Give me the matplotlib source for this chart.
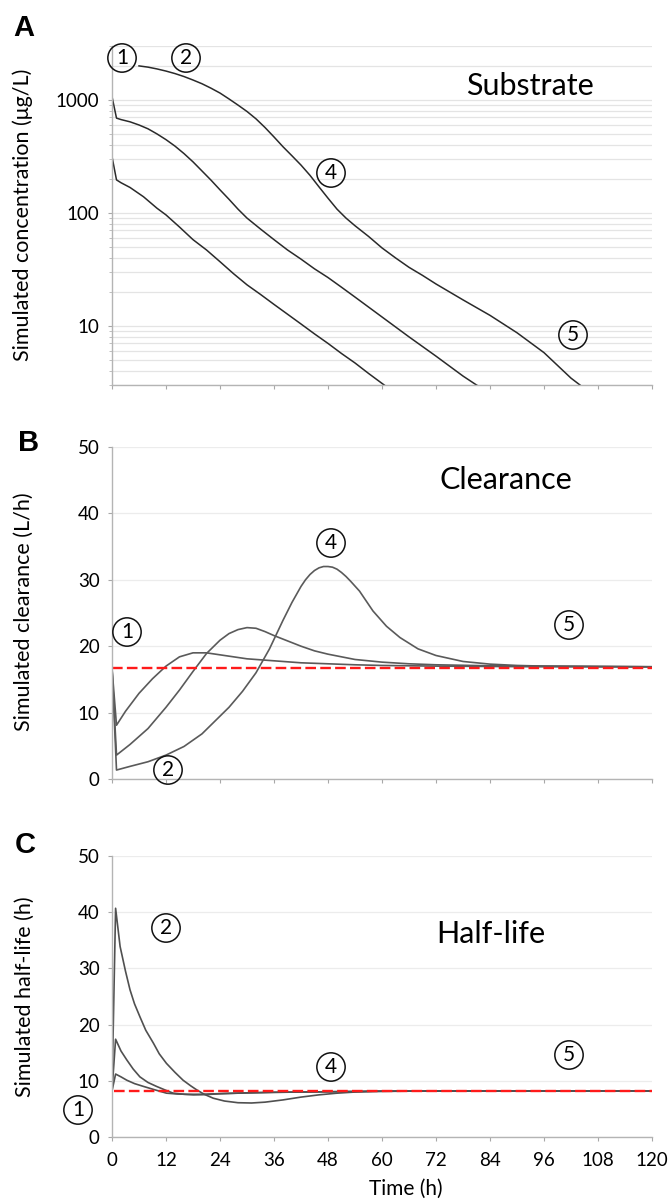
import numpy as np
import matplotlib.pyplot as plt
from matplotlib.ticker import LogLocator, FixedLocator, NullFormatter, FixedFormatter

# Simulated profiles: time (h) and values per dosing scenario

# A - substrate concentration (ug/L)
t_a_low = [0, 1, 2, 4, 7, 10, 12, 15, 18, 21, 24, 27, 30, 33, 36, 39, 42, 45, 48, 51, 54, 57, 60, 61]
c_a_low = [315, 196, 185, 168, 139, 110, 96, 75, 58, 47, 37, 29, 23.1, 19.0, 15.5, 12.7, 10.4, 8.5, 7.0, 5.7, 4.7, 3.8, 3.1, 2.9]

t_a_mid = [0, 1, 2, 4, 6, 8, 10, 12, 14, 16, 18, 20, 22, 24, 26, 28, 30, 33, 36, 39, 42, 45, 48, 51, 54, 60, 66, 72, 78, 81, 82]
c_a_mid = [1070, 690, 670, 640, 600, 555, 500, 445, 390, 335, 283, 235, 195, 160, 132, 108, 90, 72, 58, 47, 39, 32, 26.8, 22, 18, 12, 8.0, 5.4, 3.6, 3.0, 2.85]

t_a_high = [6, 8, 10, 12, 14, 16, 18, 20, 22, 24, 26, 28, 30, 32, 34, 36, 38, 40, 42, 44, 46, 48, 50, 52, 54, 57, 60, 63, 66, 69, 72, 78, 84, 90, 96, 102, 104]
c_a_high = [2000, 1950, 1880, 1800, 1710, 1610, 1500, 1390, 1270, 1150, 1020, 900, 790, 680, 570, 470, 385, 320, 265, 215, 170, 135, 108, 90, 77, 62, 49, 40, 33, 28, 23.5, 17, 12.4, 8.7, 5.8, 3.45, 3.0]

# B - clearance (L/h)
t_b_low = [0, 1, 3, 6, 9, 12, 15, 18, 21, 24, 27, 30, 36, 42, 48, 54, 60, 72, 84, 96, 108, 120]
cl_b_low = [16.7, 8.1, 10.2, 12.9, 15.1, 17.0, 18.4, 19.0, 19.0, 18.7, 18.4, 18.1, 17.8, 17.5, 17.35, 17.2, 17.1, 17.0, 16.95, 16.9, 16.9, 16.9]

t_b_mid = [0, 1, 4, 8, 12, 15, 18, 21, 24, 26, 28, 30, 32, 34, 36, 39, 42, 45, 48, 54, 60, 66, 72, 84, 96, 108, 120]
cl_b_mid = [16.7, 3.6, 5.2, 7.6, 10.8, 13.4, 16.2, 18.9, 20.9, 21.9, 22.5, 22.8, 22.7, 22.2, 21.6, 20.8, 20.0, 19.3, 18.8, 18.0, 17.6, 17.35, 17.2, 17.05, 17.0, 16.95, 16.9]

t_b_high = [0, 1, 4, 8, 12, 16, 20, 23, 26, 29, 32, 35, 38, 40, 42, 43, 44, 45, 46, 47, 48, 49, 50, 51, 52, 53, 55, 58, 61, 64, 68, 72, 78, 84, 90, 96, 108, 120]
cl_b_high = [16.7, 1.35, 1.9, 2.6, 3.6, 4.9, 6.8, 8.8, 10.8, 13.2, 16.0, 19.6, 23.9, 26.6, 29.0, 30.0, 30.8, 31.4, 31.8, 32.0, 32.0, 31.9, 31.6, 31.1, 30.5, 29.8, 28.3, 25.3, 23.0, 21.3, 19.6, 18.6, 17.7, 17.3, 17.1, 17.0, 16.95, 16.9]

cl_ref = 16.7

# C - half-life (h)
t_c_high = [0, 0.8, 1.8, 3, 4, 5, 6.2, 7.5, 9.2, 10.5, 12.1, 14, 15.8, 17.5, 18.8, 20.5, 22.5, 25, 28, 31, 34, 38, 42, 46, 50, 54, 58, 64, 72, 84, 96, 108, 120]
hl_c_high = [8.2, 40.7, 33.9, 29.5, 26.2, 23.7, 21.4, 19.0, 16.7, 14.8, 13.1, 11.5, 10.1, 9.1, 8.4, 7.6, 6.9, 6.4, 6.1, 6.05, 6.2, 6.6, 7.1, 7.5, 7.8, 8.0, 8.1, 8.15, 8.2, 8.2, 8.2, 8.2, 8.2]

t_c_mid = [0, 0.8, 2, 3.3, 4.7, 6.2, 8, 9.9, 12, 13.6, 16, 18.1, 21, 24, 30, 36, 48, 60, 120]
hl_c_mid = [8.2, 17.4, 15.3, 13.7, 12.1, 10.7, 9.7, 9.0, 8.3, 7.8, 7.6, 7.5, 7.55, 7.7, 7.85, 7.95, 8.05, 8.15, 8.2]

t_c_low = [0, 0.8, 2, 3.3, 5, 7, 9.5, 12.1, 14.5, 16.6, 20, 23.3, 30, 36, 48, 60, 120]
hl_c_low = [8.2, 11.2, 10.7, 10.1, 9.5, 9.0, 8.4, 7.8, 7.65, 7.6, 7.6, 7.7, 7.85, 7.95, 8.05, 8.15, 8.2]

hl_ref = 8.15

x_ticks = [0, 12, 24, 36, 48, 60, 72, 84, 96, 108, 120]

W, H = 671, 1204
FONT = ['Lato', 'DejaVu Sans']
plt.rcParams['font.family'] = FONT

fig = plt.figure(figsize=(W / 100, H / 100), dpi=100)


def box(top, bottom):
    return [112 / W, 1 - bottom / H, 540 / W, (bottom - top) / H]


def fx(px):
    return px / W


def fy(py):
    return 1 - py / H


ax_a = fig.add_axes(box(46, 385))
ax_b = fig.add_axes(box(447, 779))
ax_c = fig.add_axes(box(856, 1137))

for ax in (ax_a, ax_b, ax_c):
    for s in ('top', 'right'):
        ax.spines[s].set_visible(False)
    for s in ('left', 'bottom'):
        ax.spines[s].set_color('#b4b4b4')
        ax.spines[s].set_linewidth(1.0)
    ax.set_xlim(0, 120)
    ax.set_xticks(x_ticks)
    ax.tick_params(axis='x', length=3, color='#a8a8a8', labelsize=13.5, pad=8)
    ax.tick_params(axis='y', length=3, color='#a8a8a8', labelsize=13.5, pad=6)
    ax.set_axisbelow(True)

ax_a.set_xticklabels([])
ax_b.set_xticklabels([])

# A: log concentration
ax_a.set_yscale('log')
ax_a.set_ylim(3, 3000)
ax_a.yaxis.set_major_locator(FixedLocator([10, 100, 1000]))
ax_a.yaxis.set_major_formatter(FixedFormatter(['10', '100', '1000']))
ax_a.yaxis.set_minor_locator(LogLocator(base=10, subs=np.arange(2, 10)))
ax_a.yaxis.set_minor_formatter(NullFormatter())
ax_a.tick_params(axis='y', which='minor', length=2, color='#b4b4b4')
ax_a.grid(True, axis='y', which='both', color='#e4e4e4', lw=0.9)
for t, c in ((t_a_low, c_a_low), (t_a_mid, c_a_mid), (t_a_high, c_a_high)):
    ax_a.plot(t, c, color='#2a2a2a', lw=1.1)

# B: clearance
ax_b.set_ylim(0, 50)
ax_b.set_yticks([0, 10, 20, 30, 40, 50])
ax_b.grid(True, axis='y', color='#ececec', lw=0.9)
for t, c in ((t_b_low, cl_b_low), (t_b_mid, cl_b_mid), (t_b_high, cl_b_high)):
    ax_b.plot(t, c, color='#5a5a5a', lw=1.2)
ax_b.plot([0, 120], [cl_ref, cl_ref], color='#ff1a1a', lw=1.7, ls=(0, (4.5, 1.8)), clip_on=False)

# C: half-life
ax_c.set_ylim(0, 50)
ax_c.set_yticks([0, 10, 20, 30, 40, 50])
ax_c.grid(True, axis='y', color='#ececec', lw=0.9)
for t, c in ((t_c_low, hl_c_low), (t_c_mid, hl_c_mid), (t_c_high, hl_c_high)):
    ax_c.plot(t, c, color='#505050', lw=1.2)
ax_c.plot([0.5, 120], [hl_ref, hl_ref], color='#ff1a1a', lw=1.7, ls=(0, (4.5, 1.8)), clip_on=False)
fig.text(fx(406), fy(1189), 'Time (h)', fontsize=15, ha='center', va='center')

# panel letters, axis titles and inset titles
for letter, (px, py) in zip('ABC', ((24, 28), (29, 443), (25, 845))):
    fig.text(fx(px), fy(py), letter, family='Liberation Sans', weight='bold',
             fontsize=21, ha='center', va='center')

ylabels = [('Simulated concentration (\u03bcg/L)', 23, 215),
           ('Simulated clearance (L/h)', 24, 612),
           ('Simulated half-life (h)', 25, 997)]
for txt, px, py in ylabels:
    fig.text(fx(px), fy(py), txt, rotation=90, fontsize=15.5, ha='center', va='center')

for txt, px, py in (('Substrate', 530, 86), ('Clearance', 506, 480), ('Half-life', 491, 934)):
    fig.text(fx(px), fy(py), txt, fontsize=22, ha='center', va='center')

# circled phase markers
marks = [(122, 58, '1'), (186, 58, '2'), (331, 173, '4'), (573, 335, '5'),
         (127, 632, '1'), (168, 770, '2'), (331, 543, '4'), (569, 625, '5'),
         (78, 1110, '1'), (166, 928, '2'), (331, 1067, '4'), (569, 1055, '5')]
for px, py, s in marks:
    fig.text(fx(px), fy(py), s, fontsize=15, ha='center', va='center',
             bbox=dict(boxstyle='circle,pad=0.2', fc='none', ec='#111111', lw=1.1))

fig.savefig('out.png', dpi=100)
